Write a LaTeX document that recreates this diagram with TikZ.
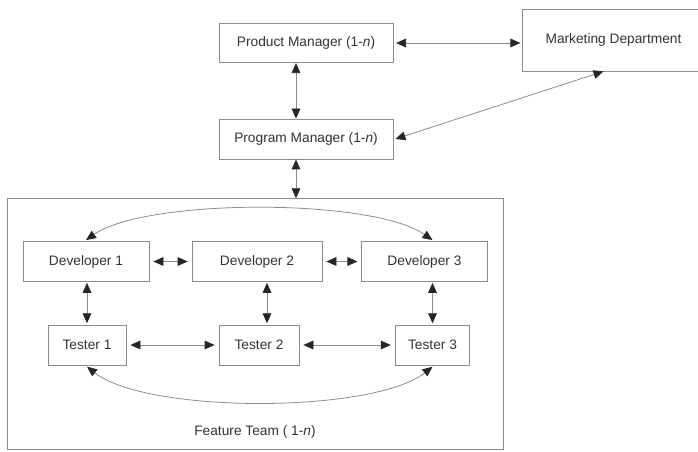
\documentclass[tikz,border=0pt]{standalone}
\usepackage{fontspec}
\setmainfont{Liberation Sans}
\usetikzlibrary{arrows.meta}
\begin{document}
\begin{tikzpicture}[x=0.75pt,y=-0.75pt,
  box/.style={draw=black!45, line width=0.6pt, fill=white, inner sep=0pt,
    font=\fontsize{10.3}{12}\selectfont, text=black!80},
  tip/.tip={Triangle[length=7.5pt,width=6.5pt,color=black!85]},
  link/.style={draw=black!45, line width=0.6pt, tip-tip}]
  \useasboundingbox (0,0) rectangle (698,452);
  % management level
  \node[box, minimum width=130.5pt, minimum height=29.5pt] (prod) at (306,43) {Product Manager (1-\textit{n})};
  \node[box, minimum width=130.5pt, minimum height=30pt] (prog) at (306,139) {Program Manager (1-\textit{n})};
  \node[box, minimum width=137pt, minimum height=46.5pt] (mkt) at (613.5,40) {Marketing Department};
  % feature team frame
  \node[box, minimum width=372pt, minimum height=188pt] (team) at (255,324) {};
  \node[font=\fontsize{10.3}{12}\selectfont, text=black!80] (teamlbl) at (255,432) {Feature Team ( 1-\textit{n})};
  % developers and testers
  \node[box, minimum width=94.5pt, minimum height=29.5pt] (d1) at (86,261.5) {Developer 1};
  \node[box, minimum width=97.5pt, minimum height=29.5pt] (d2) at (257,261.5) {Developer 2};
  \node[box, minimum width=94pt, minimum height=29.5pt] (d3) at (424.5,261.5) {Developer 3};
  \node[box, minimum width=58.5pt, minimum height=30pt] (t1) at (87,345) {Tester 1};
  \node[box, minimum width=60pt, minimum height=30pt] (t2) at (259,345) {Tester 2};
  \node[box, minimum width=56pt, minimum height=30pt] (t3) at (432.5,345) {Tester 3};
  % connectors
  \draw[link] ([xshift=2pt]prod.east) -- ([xshift=-1pt]mkt.west |- prod.east);
  \draw[link] ([xshift=-7.5pt]prod.south) -- ([xshift=-7.5pt]prog.north);
  \draw[link] ([xshift=1.5pt]prog.east) -- ([xshift=-7.5pt]mkt.south);
  \draw[link] ([xshift=-7.5pt]prog.south) -- ([xshift=-7.5pt]prog.south |- team.north);
  \draw[link] ([xshift=3pt]d1.east) -- ([xshift=-3pt]d2.west);
  \draw[link] ([xshift=3pt]d2.east) -- ([xshift=-3pt]d3.west);
  \draw[link] ([xshift=3pt]t1.east) -- ([xshift=-3pt]t2.west);
  \draw[link] ([xshift=3pt]t2.east) -- ([xshift=-3pt]t3.west);
  \draw[link] ([yshift=-1pt]d1.south -| t1.north) -- ([yshift=1pt]t1.north);
  \draw[link] ([xshift=7.5pt,yshift=-1pt]d2.south) -- ([xshift=7.5pt,yshift=1pt]d2.south |- t2.north);
  \draw[link] ([yshift=-1pt]d3.south -| t3.north) -- ([yshift=1pt]t3.north);
  \draw[link] ([yshift=1pt]d1.north) .. controls +(60,-42) and +(-60,-42) .. ([xshift=6pt,yshift=1pt]d3.north);
  \draw[link] ([yshift=-1pt]t1.south) .. controls +(60,47) and +(-60,47) .. ([yshift=-1pt]t3.south);
\end{tikzpicture}
\end{document}
